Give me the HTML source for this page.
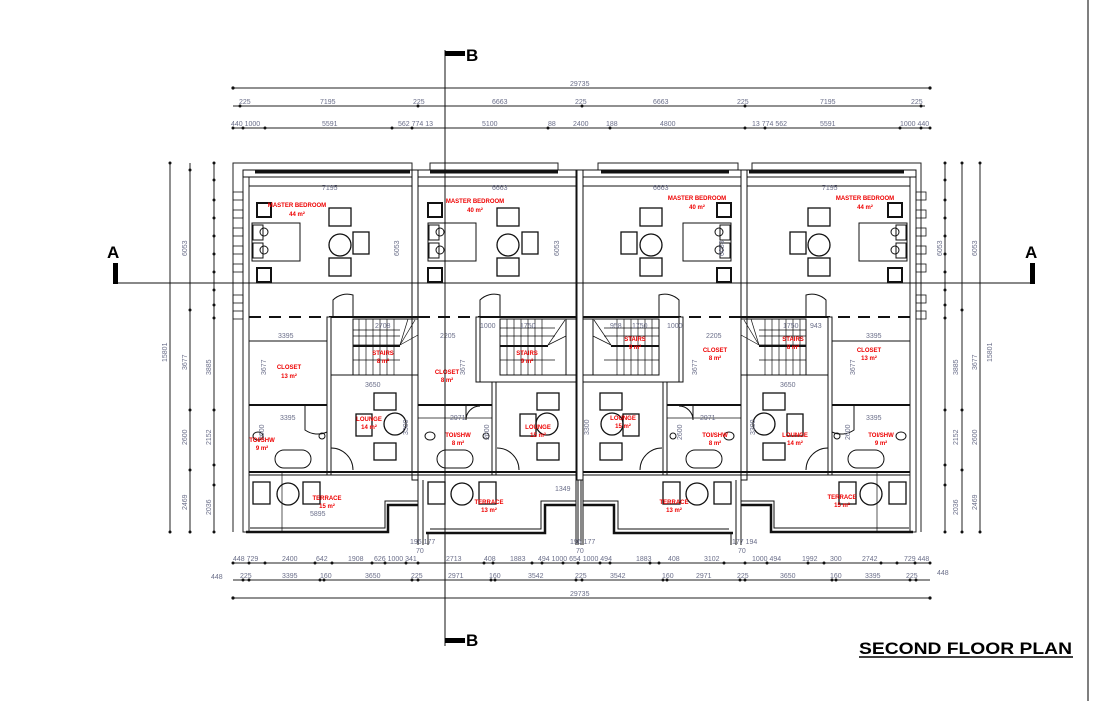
<!DOCTYPE html>
<html><head><meta charset="utf-8"><style>
html,body{margin:0;padding:0;background:#fff;width:1115px;height:701px;overflow:hidden}
svg{display:block}
.d{font-family:"Liberation Sans",sans-serif;font-size:7px;fill:#6b6f8a}
.r{font-family:"Liberation Sans",sans-serif;font-size:6px;fill:#e00;font-weight:bold;text-anchor:middle}
</style></head><body>
<svg width="1115" height="701" viewBox="0 0 1115 701" xmlns="http://www.w3.org/2000/svg">
<defs>
<g id="u1" fill="none" stroke="#111" stroke-width="1">
 <rect x="243" y="170" width="6" height="362" fill="#fff" stroke="#222"/>
 <rect x="243" y="170" width="175" height="7" fill="#fff"/>
 <line x1="255" y1="172" x2="410" y2="172" stroke-width="3"/>
 <rect x="412" y="170" width="6" height="310" fill="#fff"/>
 <line x1="249" y1="186" x2="412" y2="186"/>
 <g stroke-width="0.8"><rect x="233" y="192" width="10" height="8"/><rect x="233" y="210" width="10" height="8"/><rect x="233" y="228" width="10" height="8"/><rect x="233" y="246" width="10" height="8"/><rect x="233" y="264" width="10" height="8"/><rect x="233" y="295" width="10" height="8"/><rect x="233" y="311" width="10" height="8"/></g>
 <rect x="252" y="223" width="48" height="38"/><rect x="253" y="225" width="10" height="15"/><rect x="253" y="243" width="10" height="15"/>
 <circle cx="264" cy="232" r="4"/><circle cx="264" cy="250" r="4"/>
 <rect x="257" y="203" width="14" height="14" stroke-width="2"/><rect x="257" y="268" width="14" height="14" stroke-width="2"/>
 <rect x="329" y="208" width="22" height="18" stroke-width="1.3"/><rect x="329" y="258" width="22" height="18" stroke-width="1.3"/>
 <rect x="353" y="232" width="16" height="22" stroke-width="1.3"/><circle cx="340" cy="245" r="11" stroke-width="1.3"/>
 <line x1="249" y1="317" x2="330" y2="317" stroke-dasharray="12 8" stroke-width="2"/>
 <line x1="330" y1="317" x2="418" y2="317" stroke-width="2"/>
 <path d="M333 316 V300 A20 20 0 0 1 353 295 V316"/>
 <rect x="353" y="319" width="65" height="56"/>
 <g stroke-width="0.7"><line x1="353" y1="330" x2="400" y2="330"/><line x1="353" y1="336" x2="400" y2="336"/><line x1="353" y1="345" x2="400" y2="345"/><line x1="353" y1="360" x2="400" y2="360"/>
 <line x1="359" y1="319" x2="359" y2="345"/><line x1="366" y1="319" x2="366" y2="345"/><line x1="373" y1="319" x2="373" y2="345"/><line x1="380" y1="319" x2="380" y2="345"/><line x1="387" y1="319" x2="387" y2="345"/><line x1="394" y1="319" x2="394" y2="345"/>
 <line x1="359" y1="345" x2="359" y2="375"/><line x1="366" y1="345" x2="366" y2="375"/><line x1="373" y1="345" x2="373" y2="375"/><line x1="380" y1="345" x2="380" y2="375"/><line x1="387" y1="345" x2="387" y2="375"/><line x1="394" y1="345" x2="394" y2="375"/>
 <line x1="400" y1="345" x2="415" y2="320"/><line x1="400" y1="345" x2="418" y2="335"/><line x1="400" y1="345" x2="408" y2="319"/></g>
 <line x1="353" y1="346" x2="400" y2="346" stroke-width="2"/>
 <rect x="327" y="317" width="4" height="158" fill="#fff"/>
 <line x1="331" y1="375" x2="412" y2="375"/>
 <line x1="249" y1="341" x2="327" y2="341"/>
 <line x1="249" y1="405" x2="327" y2="405" stroke-width="2"/>
 <path d="M305 405 V430 A22 22 0 0 0 327 432"/>
 <ellipse cx="258" cy="436" rx="5" ry="4"/><circle cx="322" cy="436" r="3"/>
 <rect x="275" y="450" width="36" height="18" rx="9"/>
 <rect x="374" y="393" width="22" height="17" stroke-width="1.3"/><rect x="374" y="443" width="22" height="17" stroke-width="1.3"/>
 <rect x="356" y="414" width="16" height="22" stroke-width="1.3"/><circle cx="395" cy="424" r="11" stroke-width="1.3"/>
 <path d="M331 448 A22 22 0 0 1 353 470"/>
 <line x1="249" y1="472" x2="418" y2="472" stroke-width="2"/>
 <line x1="249" y1="475" x2="418" y2="475"/>
 <path d="M246 532 H388 V505 H418" stroke-width="2.5"/>
 <path d="M250 528 H385 V501 H418"/>
 <rect x="253" y="482" width="17" height="22" stroke-width="1.3"/><rect x="303" y="482" width="17" height="22" stroke-width="1.3"/><circle cx="288" cy="494" r="11" stroke-width="1.3"/>
 <line x1="282" y1="472" x2="282" y2="532" stroke-width="0.7"/>
</g>
<g id="u2" fill="none" stroke="#111" stroke-width="1">
 <rect x="418" y="170" width="164" height="7" fill="#fff"/>
 <line x1="430" y1="172" x2="558" y2="172" stroke-width="3"/>
 <rect x="576" y="170" width="6" height="310" fill="#fff"/>
 <line x1="418" y1="186" x2="576" y2="186"/>
 <rect x="428" y="223" width="48" height="38"/><rect x="429" y="225" width="10" height="15"/><rect x="429" y="243" width="10" height="15"/>
 <circle cx="440" cy="232" r="4"/><circle cx="440" cy="250" r="4"/>
 <rect x="428" y="203" width="14" height="14" stroke-width="2"/><rect x="428" y="268" width="14" height="14" stroke-width="2"/>
 <rect x="497" y="208" width="22" height="18" stroke-width="1.3"/><rect x="497" y="258" width="22" height="18" stroke-width="1.3"/>
 <rect x="522" y="232" width="16" height="22" stroke-width="1.3"/><circle cx="508" cy="245" r="11" stroke-width="1.3"/>
 <line x1="418" y1="317" x2="480" y2="317" stroke-dasharray="12 8" stroke-width="2"/>
 <line x1="480" y1="317" x2="576" y2="317" stroke-width="2"/>
 <path d="M480 316 V300 A20 20 0 0 1 500 295 V316"/>
 <rect x="500" y="319" width="68" height="56"/>
 <g stroke-width="0.7"><line x1="500" y1="328" x2="555" y2="328"/><line x1="500" y1="336" x2="555" y2="336"/><line x1="500" y1="360" x2="555" y2="360"/>
 <line x1="507" y1="319" x2="507" y2="375"/><line x1="514" y1="319" x2="514" y2="375"/><line x1="521" y1="319" x2="521" y2="375"/><line x1="528" y1="319" x2="528" y2="375"/><line x1="535" y1="319" x2="535" y2="375"/><line x1="542" y1="319" x2="542" y2="375"/>
 <line x1="548" y1="345" x2="565" y2="320"/><line x1="548" y1="345" x2="568" y2="335"/></g>
 <line x1="500" y1="346" x2="548" y2="346" stroke-width="2"/>
 <rect x="566" y="319" width="10" height="56" fill="#fff"/>
 <rect x="476" y="317" width="4" height="65" fill="#fff"/>
 <rect x="492" y="382" width="4" height="93" fill="#fff"/>
 <line x1="476" y1="382" x2="576" y2="382"/>
 <line x1="418" y1="405" x2="492" y2="405" stroke-width="2"/>
 <line x1="418" y1="418" x2="492" y2="418" stroke-width="0.8"/>
 <path d="M466 405 V420 A14 14 0 0 1 480 406"/>
 <ellipse cx="430" cy="436" rx="5" ry="4"/><circle cx="486" cy="436" r="3"/>
 <rect x="437" y="450" width="36" height="18" rx="9"/>
 <rect x="537" y="393" width="22" height="17" stroke-width="1.3"/><rect x="537" y="443" width="22" height="17" stroke-width="1.3"/>
 <rect x="520" y="414" width="16" height="22" stroke-width="1.3"/><circle cx="547" cy="424" r="11" stroke-width="1.3"/>
 <path d="M497 448 A22 22 0 0 1 519 470"/>
 <line x1="418" y1="472" x2="576" y2="472" stroke-width="2"/>
 <line x1="418" y1="475" x2="576" y2="475"/>
 <path d="M426 533 H545 V505 H576" stroke-width="2.5"/>
 <path d="M430 529 H541 V501 H576"/>
 <rect x="428" y="482" width="17" height="22" stroke-width="1.3"/><rect x="479" y="482" width="17" height="22" stroke-width="1.3"/><circle cx="462" cy="494" r="11" stroke-width="1.3"/>
 <line x1="418" y1="480" x2="418" y2="545"/><line x1="423" y1="480" x2="423" y2="545"/><line x1="428" y1="533" x2="428" y2="545"/>
 <line x1="576" y1="480" x2="576" y2="545"/><line x1="581" y1="480" x2="581" y2="545"/>
</g>
</defs>

<line x1="1088" y1="0" x2="1088" y2="701" stroke="#555" stroke-width="1.5"/>

<g fill="none" stroke="#222" stroke-width="1">
 <path d="M233 532 V163 H412 V170"/><path d="M430 170 V163 H558 V170"/><path d="M598 170 V163 H738 V170"/><path d="M752 170 V163 H921 V532"/>
 <rect x="910" y="170" width="6" height="362" fill="#fff"/>
</g>
<use href="#u1"/><use href="#u2"/>
<g transform="translate(1159,0) scale(-1,1)"><use href="#u1"/><use href="#u2"/></g>

<g stroke="#222" stroke-width="1">
 <line x1="233" y1="88" x2="930" y2="88"/>
 <line x1="233" y1="106" x2="925" y2="106"/>
 <line x1="233" y1="128" x2="930" y2="128"/>
 <line x1="170" y1="163" x2="170" y2="532"/><line x1="190" y1="163" x2="190" y2="532"/><line x1="214" y1="163" x2="214" y2="532"/>
 <line x1="945" y1="163" x2="945" y2="532"/><line x1="962" y1="163" x2="962" y2="532"/><line x1="980" y1="163" x2="980" y2="532"/>
 <line x1="233" y1="563" x2="930" y2="563"/>
 <line x1="233" y1="580" x2="930" y2="580"/>
 <line x1="233" y1="598" x2="930" y2="598"/>
</g>
<g fill="#111">
 <circle cx="233" cy="88" r="1.6"/><circle cx="930" cy="88" r="1.6"/>
 <circle cx="240" cy="106" r="1.5"/><circle cx="418" cy="106" r="1.5"/><circle cx="582" cy="106" r="1.5"/><circle cx="745" cy="106" r="1.5"/><circle cx="921" cy="106" r="1.5"/>
 <circle cx="233" cy="128" r="1.5"/><circle cx="243" cy="128" r="1.5"/><circle cx="265" cy="128" r="1.5"/><circle cx="392" cy="128" r="1.5"/><circle cx="412" cy="128" r="1.5"/><circle cx="548" cy="128" r="1.5"/><circle cx="610" cy="128" r="1.5"/><circle cx="745" cy="128" r="1.5"/><circle cx="765" cy="128" r="1.5"/><circle cx="900" cy="128" r="1.5"/><circle cx="921" cy="128" r="1.5"/><circle cx="930" cy="128" r="1.5"/>
 <circle cx="233" cy="563" r="1.5"/><circle cx="249" cy="563" r="1.5"/><circle cx="265" cy="563" r="1.5"/><circle cx="315" cy="563" r="1.5"/><circle cx="332" cy="563" r="1.5"/><circle cx="372" cy="563" r="1.5"/><circle cx="385" cy="563" r="1.5"/><circle cx="406" cy="563" r="1.5"/><circle cx="418" cy="563" r="1.5"/><circle cx="484" cy="563" r="1.5"/><circle cx="493" cy="563" r="1.5"/><circle cx="532" cy="563" r="1.5"/><circle cx="542" cy="563" r="1.5"/><circle cx="563" cy="563" r="1.5"/><circle cx="578" cy="563" r="1.5"/><circle cx="600" cy="563" r="1.5"/><circle cx="610" cy="563" r="1.5"/><circle cx="650" cy="563" r="1.5"/><circle cx="659" cy="563" r="1.5"/><circle cx="724" cy="563" r="1.5"/><circle cx="745" cy="563" r="1.5"/><circle cx="767" cy="563" r="1.5"/><circle cx="808" cy="563" r="1.5"/><circle cx="824" cy="563" r="1.5"/><circle cx="881" cy="563" r="1.5"/><circle cx="897" cy="563" r="1.5"/><circle cx="915" cy="563" r="1.5"/><circle cx="930" cy="563" r="1.5"/>
 <circle cx="243" cy="580" r="1.5"/><circle cx="249" cy="580" r="1.5"/><circle cx="320" cy="580" r="1.5"/><circle cx="324" cy="580" r="1.5"/><circle cx="412" cy="580" r="1.5"/><circle cx="418" cy="580" r="1.5"/><circle cx="491" cy="580" r="1.5"/><circle cx="495" cy="580" r="1.5"/><circle cx="576" cy="580" r="1.5"/><circle cx="582" cy="580" r="1.5"/><circle cx="663" cy="580" r="1.5"/><circle cx="667" cy="580" r="1.5"/><circle cx="740" cy="580" r="1.5"/><circle cx="745" cy="580" r="1.5"/><circle cx="832" cy="580" r="1.5"/><circle cx="836" cy="580" r="1.5"/><circle cx="910" cy="580" r="1.5"/><circle cx="916" cy="580" r="1.5"/>
 <circle cx="233" cy="598" r="1.6"/><circle cx="930" cy="598" r="1.6"/>
 <circle cx="170" cy="163" r="1.5"/><circle cx="170" cy="532" r="1.5"/><circle cx="190" cy="170" r="1.5"/><circle cx="190" cy="310" r="1.5"/><circle cx="190" cy="410" r="1.5"/><circle cx="190" cy="470" r="1.5"/><circle cx="190" cy="532" r="1.5"/>
 <circle cx="214" cy="163" r="1.5"/><circle cx="214" cy="180" r="1.5"/><circle cx="214" cy="200" r="1.5"/><circle cx="214" cy="218" r="1.5"/><circle cx="214" cy="236" r="1.5"/><circle cx="214" cy="254" r="1.5"/><circle cx="214" cy="272" r="1.5"/><circle cx="214" cy="290" r="1.5"/><circle cx="214" cy="305" r="1.5"/><circle cx="214" cy="318" r="1.5"/><circle cx="214" cy="410" r="1.5"/><circle cx="214" cy="465" r="1.5"/><circle cx="214" cy="485" r="1.5"/><circle cx="214" cy="532" r="1.5"/>
 <circle cx="945" cy="163" r="1.5"/><circle cx="945" cy="180" r="1.5"/><circle cx="945" cy="200" r="1.5"/><circle cx="945" cy="218" r="1.5"/><circle cx="945" cy="236" r="1.5"/><circle cx="945" cy="254" r="1.5"/><circle cx="945" cy="272" r="1.5"/><circle cx="945" cy="290" r="1.5"/><circle cx="945" cy="305" r="1.5"/><circle cx="945" cy="318" r="1.5"/><circle cx="945" cy="410" r="1.5"/><circle cx="945" cy="465" r="1.5"/><circle cx="945" cy="485" r="1.5"/><circle cx="945" cy="532" r="1.5"/>
 <circle cx="962" cy="163" r="1.5"/><circle cx="962" cy="310" r="1.5"/><circle cx="962" cy="410" r="1.5"/><circle cx="962" cy="470" r="1.5"/><circle cx="962" cy="532" r="1.5"/><circle cx="980" cy="163" r="1.5"/><circle cx="980" cy="532" r="1.5"/>
</g>

<g class="d">
 <text x="570" y="86">29735</text><text x="570" y="596">29735</text>
 <text x="239" y="104">225</text><text x="320" y="104">7195</text><text x="413" y="104">225</text><text x="492" y="104">6663</text><text x="575" y="104">225</text><text x="653" y="104">6663</text><text x="737" y="104">225</text><text x="820" y="104">7195</text><text x="911" y="104">225</text>
 <text x="231" y="126">440 1000</text><text x="322" y="126">5591</text><text x="398" y="126">562 774 13</text><text x="482" y="126">5100</text><text x="548" y="126">88</text><text x="573" y="126">2400</text><text x="606" y="126">188</text><text x="660" y="126">4800</text><text x="752" y="126">13 774 562</text><text x="820" y="126">5591</text><text x="900" y="126">1000 440</text>
 <text x="233" y="561">448 729</text><text x="282" y="561">2400</text><text x="316" y="561">642</text><text x="348" y="561">1908</text><text x="374" y="561">626 1000 341</text><text x="446" y="561">2713</text><text x="484" y="561">408</text><text x="510" y="561">1883</text><text x="538" y="561">494 1000 654 1000 494</text><text x="636" y="561">1883</text><text x="668" y="561">408</text><text x="704" y="561">3102</text><text x="752" y="561">1000 494</text><text x="802" y="561">1992</text><text x="830" y="561">300</text><text x="862" y="561">2742</text><text x="904" y="561">729 448</text>
 <text x="211" y="579">448</text><text x="240" y="578">225</text><text x="282" y="578">3395</text><text x="320" y="578">160</text><text x="365" y="578">3650</text><text x="411" y="578">225</text><text x="448" y="578">2971</text><text x="489" y="578">160</text><text x="528" y="578">3542</text><text x="575" y="578">225</text><text x="610" y="578">3542</text><text x="662" y="578">160</text><text x="696" y="578">2971</text><text x="737" y="578">225</text><text x="780" y="578">3650</text><text x="830" y="578">160</text><text x="865" y="578">3395</text><text x="906" y="578">225</text><text x="937" y="575">448</text>
 <text x="410" y="544">196 177</text><text x="416" y="553">70</text><text x="570" y="544">196 177</text><text x="576" y="553">70</text><text x="732" y="544">177 194</text><text x="738" y="553">70</text>
 <text x="322" y="190">7195</text><text x="492" y="190">6663</text><text x="653" y="190">6663</text><text x="822" y="190">7195</text>
 <text x="278" y="338">3395</text><text x="440" y="338">2205</text><text x="706" y="338">2205</text><text x="866" y="338">3395</text>
 <text x="365" y="387">3650</text><text x="780" y="387">3650</text>
 <text x="280" y="420">3395</text><text x="450" y="420">2971</text><text x="700" y="420">2971</text><text x="866" y="420">3395</text>
 <text x="310" y="516">5895</text><text x="555" y="491">1349</text>
 <text x="480" y="328">1000</text><text x="520" y="328">1750</text><text x="375" y="328">2708</text><text x="610" y="328">958</text><text x="632" y="328">1750</text><text x="667" y="328">1000</text><text x="783" y="328">1750</text><text x="810" y="328">943</text>
 <g transform="rotate(-90)">
  <text x="-362" y="167">15801</text><text x="-256" y="187">6053</text><text x="-370" y="187">3677</text><text x="-445" y="187">2600</text><text x="-510" y="187">2469</text>
  <text x="-375" y="211">3885</text><text x="-445" y="211">2152</text><text x="-515" y="211">2036</text>
  <text x="-256" y="399">6053</text><text x="-256" y="559">6053</text><text x="-256" y="724">6053</text><text x="-256" y="942">6053</text>
  <text x="-256" y="977">6053</text><text x="-370" y="977">3677</text><text x="-445" y="977">2600</text><text x="-510" y="977">2469</text>
  <text x="-375" y="958">3885</text><text x="-445" y="958">2152</text><text x="-515" y="958">2036</text><text x="-362" y="992">15801</text>
  <text x="-375" y="266">3677</text><text x="-375" y="465">3677</text><text x="-375" y="697">3677</text><text x="-375" y="855">3677</text>
  <text x="-435" y="408">3300</text><text x="-435" y="589">3300</text><text x="-435" y="755">3300</text>
  <text x="-440" y="489">2600</text><text x="-440" y="682">2600</text><text x="-440" y="850">2600</text><text x="-440" y="264">2600</text>
 </g>
</g>

<g class="r">
 <text x="297" y="207">MASTER BEDROOM</text><text x="297" y="216">44 m²</text>
 <text x="475" y="203">MASTER BEDROOM</text><text x="475" y="212">40 m²</text>
 <text x="697" y="200">MASTER BEDROOM</text><text x="697" y="209">40 m²</text>
 <text x="865" y="200">MASTER BEDROOM</text><text x="865" y="209">44 m²</text>
 <text x="289" y="369">CLOSET</text><text x="289" y="378">13 m²</text>
 <text x="447" y="374">CLOSET</text><text x="447" y="382">8 m²</text>
 <text x="715" y="352">CLOSET</text><text x="715" y="360">8 m²</text>
 <text x="869" y="352">CLOSET</text><text x="869" y="360">13 m²</text>
 <text x="383" y="355">STAIRS</text><text x="383" y="363">8 m²</text>
 <text x="527" y="355">STAIRS</text><text x="527" y="363">9 m²</text>
 <text x="635" y="341">STAIRS</text><text x="635" y="349">9 m²</text>
 <text x="793" y="341">STAIRS</text><text x="793" y="349">8 m²</text>
 <text x="369" y="421">LOUNGE</text><text x="369" y="429">14 m²</text>
 <text x="538" y="429">LOUNGE</text><text x="538" y="437">15 m²</text>
 <text x="623" y="420">LOUNGE</text><text x="623" y="428">15 m²</text>
 <text x="795" y="437">LOUNGE</text><text x="795" y="445">14 m²</text>
 <text x="262" y="442">TOI/SHW</text><text x="262" y="450">9 m²</text>
 <text x="458" y="437">TOI/SHW</text><text x="458" y="445">8 m²</text>
 <text x="715" y="437">TOI/SHW</text><text x="715" y="445">8 m²</text>
 <text x="881" y="437">TOI/SHW</text><text x="881" y="445">9 m²</text>
 <text x="327" y="500">TERRACE</text><text x="327" y="508">15 m²</text>
 <text x="489" y="504">TERRACE</text><text x="489" y="512">13 m²</text>
 <text x="674" y="504">TERRACE</text><text x="674" y="512">13 m²</text>
 <text x="842" y="499">TERRACE</text><text x="842" y="507">15 m²</text>
</g>

<g stroke="#111" stroke-width="1">
 <line x1="445" y1="50" x2="445" y2="646"/>
 <line x1="113" y1="283" x2="1034" y2="283"/>
</g>
<rect x="445" y="51" width="20" height="5" fill="#000"/>
<rect x="445" y="638" width="20" height="5" fill="#000"/>
<rect x="113" y="263" width="5" height="21" fill="#000"/>
<rect x="1030" y="263" width="5" height="21" fill="#000"/>
<g font-family="Liberation Sans,sans-serif" font-weight="bold" font-size="17" fill="#000">
 <text x="466" y="61">B</text><text x="466" y="646">B</text>
 <text x="107" y="258">A</text><text x="1025" y="258">A</text>
</g>
<text x="859" y="654" font-family="Liberation Sans,sans-serif" font-weight="bold" font-size="17" fill="#000" textLength="213" lengthAdjust="spacingAndGlyphs">SECOND FLOOR PLAN</text>
<line x1="859" y1="657" x2="1073" y2="657" stroke="#000" stroke-width="1.5"/>
</svg>
</body></html>
